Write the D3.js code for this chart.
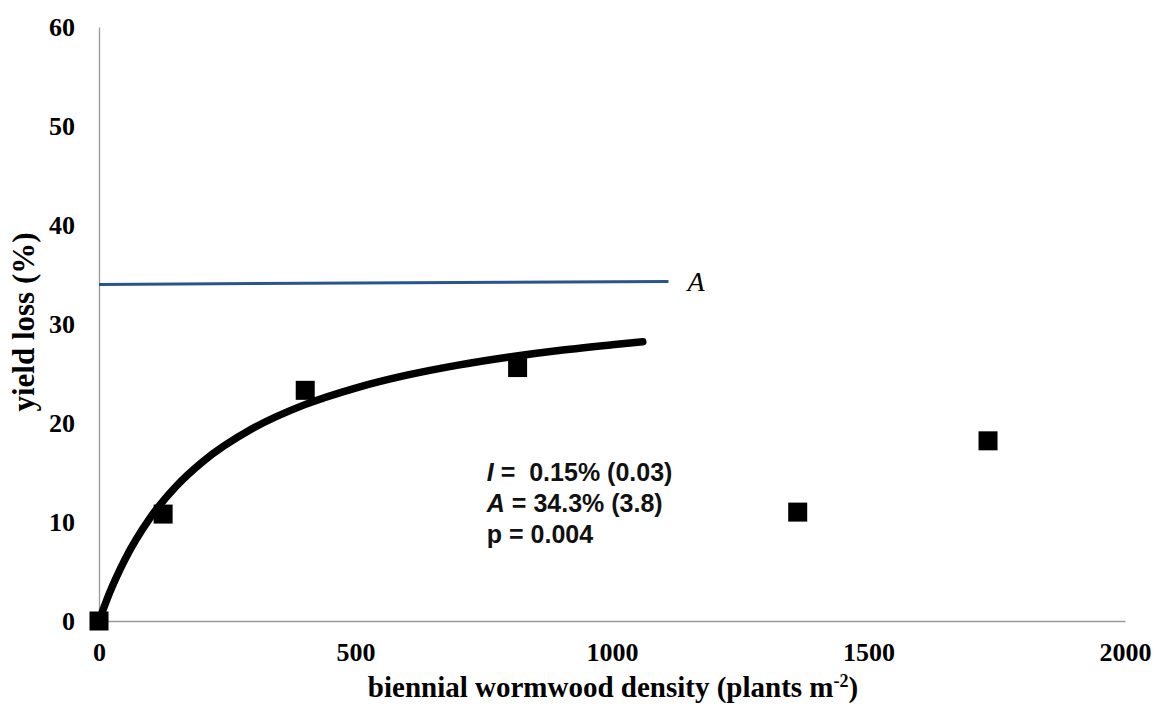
<!DOCTYPE html>
<html>
<head>
<meta charset="utf-8">
<script src="https://cdn.jsdelivr.net/npm/d3@7"></script>
<style>
  html, body { margin: 0; padding: 0; background: #fff; overflow: hidden; }
  svg { display: block; }
</style>
</head>
<body>
<div id="chart"></div>
<script>
// observed points: density (plants m-2) and yield loss (%)
const density = [0, 125, 402, 816, 1362, 1733];
const yieldLoss = [0, 10.8, 23.3, 25.6, 11.0, 18.2];

// fitted curve
const curveDensity = [0, 20, 50, 100, 150, 200, 300, 400, 500, 600, 700, 800, 900, 1000, 1060];
const curveLoss = [0, 2.76, 6.15, 10.44, 13.59, 16.0, 19.46, 21.83, 23.53, 24.83, 25.85, 26.67, 27.35, 27.9, 28.2];

// asymptote line A
const asymDensity = [0, 1110];
const asymLoss = [34.0, 34.3];

const xTicks = [0, 500, 1000, 1500, 2000];
const yTicks = [0, 10, 20, 30, 40, 50, 60];
const statLines = [
  { it: "I", rest: " =  0.15% (0.03)" },
  { it: "A", rest: " = 34.3% (3.8)" },
  { it: "", rest: "p = 0.004" }
];

const serif = "'Liberation Serif', 'Times New Roman', serif";
const sans = "'Liberation Sans', Arial, sans-serif";

const width = 1158, height = 712;
const margins = { top: 27, right: 33, bottom: 91, left: 99 };
const innerWidth = width - margins.left - margins.right;
const innerHeight = height - margins.top - margins.bottom;

const svg = d3.select("#chart").append("svg")
  .attr("width", width)
  .attr("height", height)
  .style("font-family", serif);

const g = svg.append("g")
  .attr("transform", `translate(${margins.left},${margins.top})`);

const xScale = d3.scaleLinear().domain([0, 2000]).range([0, innerWidth]);
const yScale = d3.scaleLinear().domain([0, 60]).range([innerHeight, 0]);

// axes, no tick marks
const xAxis = d3.axisBottom(xScale).tickValues(xTicks).tickFormat(d3.format("d"))
  .tickSize(0).tickPadding(22);
const yAxis = d3.axisLeft(yScale).tickValues(yTicks).tickFormat(d3.format("d"))
  .tickSize(0).tickPadding(24);

const gx = g.append("g")
  .attr("transform", `translate(0,${innerHeight})`)
  .call(xAxis);
const gy = g.append("g").call(yAxis);

[gx, gy].forEach(a => {
  a.attr("font-size", null).attr("font-family", null);
  a.select(".domain").attr("stroke", "#999").attr("stroke-width", 1.3);
  a.selectAll("text")
    .style("font-family", serif)
    .style("font-weight", "bold")
    .style("font-size", "26px")
    .attr("fill", "#000");
});
gx.selectAll("text").attr("dy", "0.71em");
gy.selectAll("text").attr("dy", "0.34em");

// asymptote
g.append("path")
  .datum(asymDensity.map((d, i) => [d, asymLoss[i]]))
  .attr("fill", "none")
  .attr("stroke", "#2a548c")
  .attr("stroke-width", 3)
  .attr("d", d3.line().x(d => xScale(d[0])).y(d => yScale(d[1])));

g.append("text")
  .attr("x", xScale(1147))
  .attr("y", yScale(34.3) + 10)
  .style("font-style", "italic")
  .style("font-size", "28px")
  .text("A");

// fitted curve
g.append("path")
  .datum(curveDensity.map((d, i) => [d, curveLoss[i]]))
  .attr("fill", "none")
  .attr("stroke", "#000")
  .attr("stroke-width", 7.5)
  .attr("stroke-linecap", "round")
  .attr("d", d3.line().curve(d3.curveMonotoneX).x(d => xScale(d[0])).y(d => yScale(d[1])));

// squares
const sz = 19;
g.selectAll(".pt")
  .data(density.map((d, i) => ({ x: d, y: yieldLoss[i] })))
  .enter().append("rect")
  .attr("class", "pt")
  .attr("x", d => xScale(d.x) - sz / 2)
  .attr("y", d => yScale(d.y) - sz / 2)
  .attr("width", sz)
  .attr("height", sz)
  .attr("fill", "#000");

// stats annotation
const st = g.append("g")
  .attr("transform", `translate(${xScale(756)},${yScale(14.1)})`);
statLines.forEach((l, i) => {
  const t = st.append("text")
    .attr("x", 0)
    .attr("y", i * 31)
    .style("font-family", sans)
    .style("font-weight", "bold")
    .style("font-size", "25px")
    .attr("fill", "#111");
  if (l.it) t.append("tspan").style("font-style", "italic").text(l.it);
  t.append("tspan").style("white-space", "pre").text(l.rest);
});

// axis titles
const xt = svg.append("text")
  .attr("x", 613)
  .attr("y", 697)
  .attr("text-anchor", "middle")
  .style("font-weight", "bold")
  .style("font-size", "29px");
xt.append("tspan").text("biennial wormwood density (plants m");
xt.append("tspan").attr("dy", -10).style("font-size", "18px").text("-2");
xt.append("tspan").attr("dy", 10).text(")");

svg.append("text")
  .attr("transform", `translate(34,322) rotate(-90)`)
  .attr("text-anchor", "middle")
  .style("font-weight", "bold")
  .style("font-size", "31px")
  .text("yield loss (%)");
</script>
</body>
</html>
